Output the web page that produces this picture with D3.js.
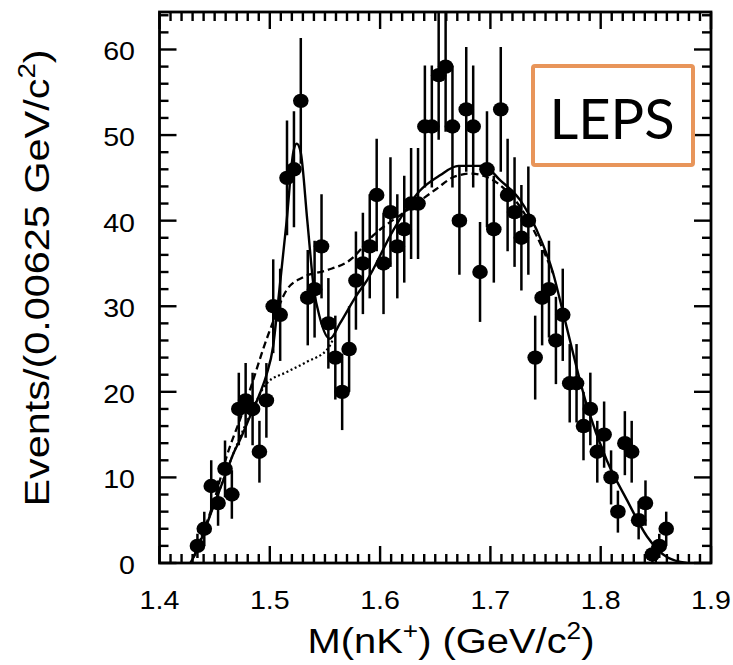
<!DOCTYPE html>
<html>
<head>
<meta charset="utf-8">
<script src="https://cdn.jsdelivr.net/npm/d3@7"></script>
<style>
  html, body { margin: 0; padding: 0; background: #fff; }
  svg { display: block; }
</style>
</head>
<body>
<svg id="chart" width="733" height="665"></svg>
<script>
// ---------------- data ----------------
const massBins = [
  1.4344, 1.4406, 1.4469, 1.4531, 1.4594, 1.4656, 1.4719, 1.4781, 1.4844, 1.4906,
  1.4969, 1.5031, 1.5094, 1.5156, 1.5219, 1.5281, 1.5344, 1.5406, 1.5469, 1.5531,
  1.5594, 1.5656, 1.5719, 1.5781, 1.5844, 1.5906, 1.5969, 1.6031, 1.6094, 1.6156,
  1.6219, 1.6281, 1.6344, 1.6406, 1.6469, 1.6531, 1.6594, 1.6656, 1.6719, 1.6781,
  1.6844, 1.6906, 1.6969, 1.7031, 1.7094, 1.7156, 1.7219, 1.7281, 1.7344, 1.7406,
  1.7469, 1.7531, 1.7594, 1.7656, 1.7719, 1.7781, 1.7844, 1.7906, 1.7969, 1.8031,
  1.8094, 1.8156, 1.8219, 1.8281, 1.8344, 1.8406, 1.8469, 1.8531, 1.8594
];
const events = [
  2, 4, 9, 7, 11, 8, 18, 19, 18, 13,
  19, 30, 29, 45, 46, 54, 31, 32, 37, 28,
  24, 20, 25, 33, 35, 37, 43, 35, 41, 37,
  39, 42, 42, 51, 51, 57, 58, 51, 40, 53,
  51, 34, 46, 39, 53, 43, 41, 38, 40, 24,
  31, 32, 26, 29, 21, 21, 16, 18, 13, 15,
  10, 6, 14, 13, 5, 7, 1, 2, 4
];
const eventErrors = [
  1.41, 2.00, 3.00, 2.65, 3.32, 2.83, 4.24, 4.36, 4.24, 3.61,
  4.36, 5.48, 5.39, 6.71, 6.78, 7.35, 5.57, 5.66, 6.08, 5.29,
  4.90, 4.47, 5.00, 5.74, 5.92, 6.08, 6.56, 5.92, 6.40, 6.08,
  6.24, 6.48, 6.48, 7.14, 7.14, 7.55, 7.62, 7.14, 6.32, 7.28,
  7.14, 5.83, 6.78, 6.24, 7.28, 6.56, 6.40, 6.16, 6.32, 4.90,
  5.57, 5.66, 5.10, 5.39, 4.58, 4.58, 4.00, 4.24, 3.61, 3.87,
  3.16, 2.45, 3.74, 3.61, 2.24, 2.65, 1.00, 1.41, 2.00
];

// fit (solid): background + peak
const fitMass = [1.428, 1.431, 1.450, 1.460, 1.467, 1.473, 1.482, 1.491, 1.497, 1.503, 1.5077, 1.5153,
  1.5213, 1.5244, 1.528, 1.534, 1.540, 1.5455, 1.5545, 1.5636, 1.5788, 1.588, 1.612,
  1.636, 1.6543, 1.671, 1.6936, 1.709, 1.727, 1.742, 1.757, 1.766, 1.787, 1.8055,
  1.8236, 1.842, 1.860, 1.878];
const fitValue = [0, 0.7, 7.0, 10.4, 12.8, 14.4, 17.1, 19.8, 22.0, 25.3, 30.7, 40.0,
  48.0, 49.0, 48.0, 40.0, 32.0, 28.6, 26.2, 28.0, 31.3, 33.0, 38.9,
  43.5, 45.3, 46.4, 46.4, 44.7, 42.4, 38.9, 33.8, 29.2, 18.6, 12.0,
  7.4, 3.1, 0.7, 0];

// alternative background (dashed)
const dashMass = [1.431, 1.450, 1.461, 1.475, 1.485, 1.494, 1.503, 1.5153, 1.5304, 1.5516,
  1.5727, 1.594, 1.6243, 1.651, 1.6666, 1.682, 1.697, 1.712, 1.727, 1.742, 1.757];
const dashValue = [0.7, 7.5, 12.5, 17.5, 21.4, 25.0, 28.2, 31.9, 33.4, 34.2,
  35.4, 38.3, 41.2, 43.7, 45.1, 45.5, 45.1, 43.8, 41.6, 38.2, 33.8];

// background without peak (dotted)
const dotMass = [1.431, 1.450, 1.467, 1.482, 1.4973, 1.5153, 1.5335, 1.553, 1.5575];
const dotValue = [0.7, 7.0, 12.8, 17.3, 21.0, 22.3, 23.5, 25.1, 26.2];

const xTickValues = [1.4, 1.5, 1.6, 1.7, 1.8, 1.9];
const xTickLabels = ["1.4", "1.5", "1.6", "1.7", "1.8", "1.9"];
const yTickValues = [0, 10, 20, 30, 40, 50, 60];
const yTickLabels = ["0", "10", "20", "30", "40", "50", "60"];

// ---------------- layout ----------------
const svg = d3.select("#chart");
const L = 159.5, R = 711, T = 12, B = 563;
const x = d3.scaleLinear().domain([1.4, 1.9]).range([L, R]);
const y = d3.scaleLinear().domain([0, 64.38]).range([B, T]);
const SX = 1.1; // horizontal stretch of the original figure
const FONT = "'Liberation Sans', Arial, Helvetica, sans-serif";

svg.append("defs").append("clipPath").attr("id", "plotclip")
  .append("rect").attr("x", L).attr("y", T).attr("width", R - L).attr("height", B - T);

// ticks (inward on all four sides)
const minorX = d3.range(141).map(i => 1.4 + i * 0.01).filter(v => v <= 1.9001);
const minorY = d3.range(0, 65, 2);
const tickG = svg.append("g").attr("stroke", "#000").attr("stroke-width", 2.4);
function isMajorX(v) { return Math.abs(v * 10 - Math.round(v * 10)) < 1e-6; }
minorX.forEach(v => {
  const len = isMajorX(v) ? 17 : 9;
  tickG.append("line").attr("x1", x(v)).attr("x2", x(v)).attr("y1", B).attr("y2", B - len);
  tickG.append("line").attr("x1", x(v)).attr("x2", x(v)).attr("y1", T).attr("y2", T + len);
});
minorY.forEach(v => {
  const len = v % 10 === 0 ? 17 : 9;
  tickG.append("line").attr("x1", L).attr("x2", L + len).attr("y1", y(v)).attr("y2", y(v));
  tickG.append("line").attr("x1", R).attr("x2", R - len).attr("y1", y(v)).attr("y2", y(v));
});

// curves
const lineGen = d3.line().x(d => x(d[0])).y(d => y(d[1])).curve(d3.curveMonotoneX);
const curvesG = svg.append("g").attr("clip-path", "url(#plotclip)").attr("fill", "none").attr("stroke", "#000");
curvesG.append("path").datum(dotMass.map((m, i) => [m, dotValue[i]]))
  .attr("d", lineGen).attr("stroke-width", 2.2).attr("stroke-dasharray", "2,2.6");
curvesG.append("path").datum(dashMass.map((m, i) => [m, dashValue[i]]))
  .attr("d", lineGen).attr("stroke-width", 2.3).attr("stroke-dasharray", "7,4");
curvesG.append("path").datum(fitMass.map((m, i) => [m, fitValue[i]]))
  .attr("d", lineGen).attr("stroke-width", 2.4);

// error bars
const errG = svg.append("g").attr("clip-path", "url(#plotclip)").attr("stroke", "#000").attr("stroke-width", 2.5);
massBins.forEach((m, i) => {
  errG.append("line").attr("x1", x(m)).attr("x2", x(m))
    .attr("y1", y(events[i] - eventErrors[i])).attr("y2", y(events[i] + eventErrors[i]));
});
// points
svg.append("g").selectAll("ellipse").data(massBins).join("ellipse")
  .attr("cx", d => x(d)).attr("cy", (d, i) => y(events[i]))
  .attr("rx", 7.8).attr("ry", 7.2).attr("fill", "#000");

// frame
svg.append("rect").attr("x", L).attr("y", T).attr("width", R - L).attr("height", B - T)
  .attr("fill", "none").attr("stroke", "#000").attr("stroke-width", 2.8);

// tick labels
xTickValues.forEach((v, i) => {
  svg.append("text").attr("transform", `translate(${x(v)},609) scale(${SX},1)`)
    .attr("text-anchor", "middle").attr("font-family", FONT).attr("font-size", 26)
    .attr("fill", "#000").text(xTickLabels[i]);
});
yTickValues.forEach((v, i) => {
  svg.append("text").attr("transform", `translate(135,${y(v) + 11}) scale(${SX},1)`)
    .attr("text-anchor", "end").attr("font-family", FONT).attr("font-size", 26)
    .attr("fill", "#000").text(yTickLabels[i]);
});

// axis titles
const xt = svg.append("text").attr("transform", `translate(451,653) scale(1.14,1)`)
  .attr("text-anchor", "middle").attr("font-family", FONT).attr("font-size", 35).attr("fill", "#000");
xt.append("tspan").text("M(nK");
xt.append("tspan").attr("font-size", 23).attr("dy", -14).text("+");
xt.append("tspan").attr("dy", 14).text(") (GeV/c");
xt.append("tspan").attr("font-size", 23).attr("dy", -14).text("2");
xt.append("tspan").attr("dy", 14).text(")");

const yt = svg.append("text").attr("transform", `translate(49,278) rotate(-90) scale(1.15,1)`)
  .attr("text-anchor", "middle").attr("font-family", FONT).attr("font-size", 36).attr("fill", "#000");
yt.append("tspan").text("Events/(0.00625 GeV/c");
yt.append("tspan").attr("font-size", 24).attr("dy", -14).text("2");
yt.append("tspan").attr("dy", 14).text(")");

// LEPS label box
svg.append("rect").attr("x", 533).attr("y", 66).attr("width", 160).attr("height", 99)
  .attr("rx", 2).attr("fill", "#fff").attr("stroke", "#E8955A").attr("stroke-width", 4);
svg.append("text").attr("x", 612).attr("y", 139).attr("text-anchor", "middle")
  .attr("font-family", "Lato, 'Open Sans', sans-serif").attr("font-size", 56).attr("fill", "#000")
  .text("LEPS");
</script>
</body>
</html>
